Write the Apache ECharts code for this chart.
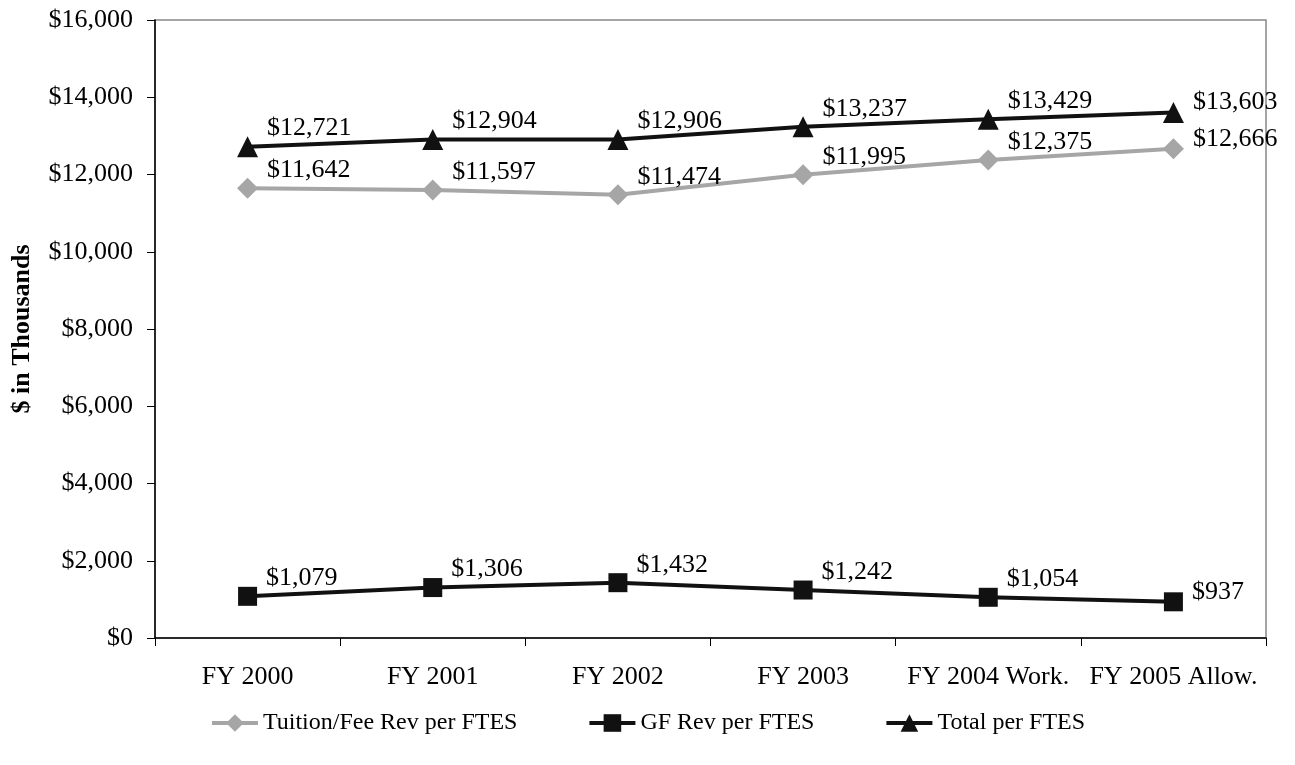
<!DOCTYPE html>
<html>
<head>
<meta charset="utf-8">
<script src="https://cdn.jsdelivr.net/npm/echarts@6/dist/echarts.min.js"></script>
<style>
html,body{margin:0;padding:0;background:#fff;}
#chart{width:1295px;height:765px;}
</style>
</head>
<body>
<div id="chart"></div>
<script>
// Revenue per FTES, $ in thousands
const categories = ['FY 2000', 'FY 2001', 'FY 2002', 'FY 2003', 'FY 2004 Work.', 'FY 2005 Allow.'];
const tuitionFee = [11642, 11597, 11474, 11995, 12375, 12666];
const gfRev = [1079, 1306, 1432, 1242, 1054, 937];
const totalPerFtes = [12721, 12904, 12906, 13237, 13429, 13603];
const seriesNames = ['Tuition/Fee Rev per FTES', 'GF Rev per FTES', 'Total per FTES'];

const FONT = '"Liberation Serif", "Times New Roman", serif';
const fmt = v => '$' + v.toLocaleString('en-US');

const labelCfg = {
  show: true,
  position: 'right',
  distance: 9,
  color: '#000',
  fontFamily: FONT,
  fontSize: 26,
  formatter: p => fmt(p.value)
};

function makeSeries(name, data, color, symbol, size) {
  const last = data.length - 1;
  return {
    name: name,
    type: 'line',
    data: data,
    symbol: symbol,
    symbolSize: size,
    itemStyle: { color: color },
    lineStyle: { color: color, width: 4 },
    label: labelCfg,
    // lift labels above the line; the last column sits beside its marker
    labelLayout: p => ({ dy: p.dataIndex === last ? -10 : -18, hideOverlap: false }),
    animation: false,
    z: 3
  };
}

const chart = echarts.init(document.getElementById('chart'), null, { renderer: 'canvas' });
chart.setOption({
  backgroundColor: '#fff',
  animation: false,
  grid: { left: 155, right: 29, top: 20, bottom: 127, show: true, borderColor: '#888', borderWidth: 1.5 },
  legend: {
    top: 706,
    left: 'center',
    itemGap: 70,
    itemWidth: 46,
    itemHeight: 22,
    lineStyle: { width: 4 },
    textStyle: { fontFamily: FONT, fontSize: 24, color: '#000' },
    data: seriesNames
  },
  xAxis: {
    type: 'category',
    data: categories,
    boundaryGap: true,
    axisLine: { lineStyle: { color: '#000', width: 1.5 } },
    axisTick: { show: true, length: 8, inside: false, lineStyle: { color: '#000' } },
    axisLabel: { fontFamily: FONT, fontSize: 26, color: '#000', margin: 26, interval: 0 },
    splitLine: { show: false }
  },
  yAxis: {
    type: 'value',
    min: 0,
    max: 16000,
    interval: 2000,
    name: '$ in Thousands',
    nameLocation: 'middle',
    nameGap: 120,
    nameTextStyle: { fontFamily: FONT, fontSize: 26, fontWeight: 'bold', color: '#000' },
    axisLine: { show: true, lineStyle: { color: '#000', width: 1.5 } },
    axisTick: { show: true, length: 8, lineStyle: { color: '#000' } },
    axisLabel: { fontFamily: FONT, fontSize: 26, color: '#000', margin: 22, formatter: v => fmt(v) },
    splitLine: { show: false }
  },
  series: [
    makeSeries(seriesNames[0], tuitionFee, '#a6a6a6', 'diamond', 21),
    makeSeries(seriesNames[1], gfRev, '#111', 'rect', 19),
    makeSeries(seriesNames[2], totalPerFtes, '#111', 'triangle', 21)
  ]
});
</script>
</body>
</html>
